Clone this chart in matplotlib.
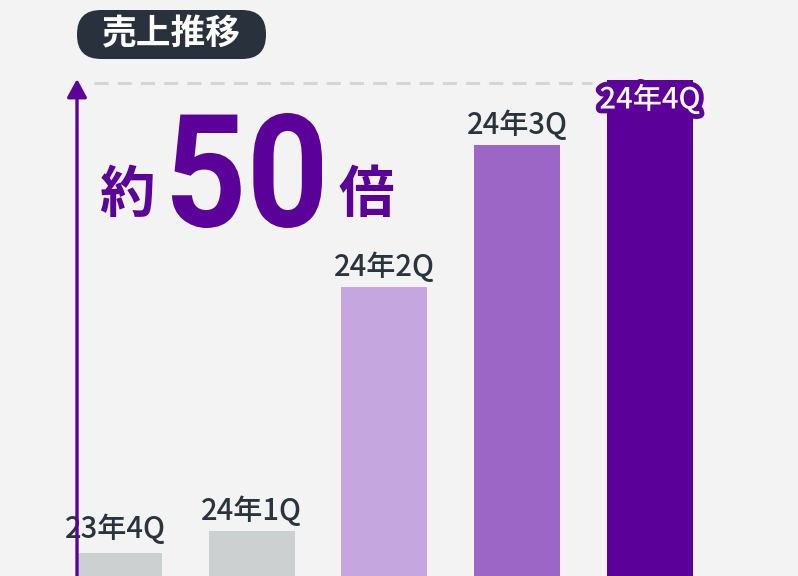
import matplotlib
matplotlib.use("Agg")
import matplotlib.pyplot as plt
import matplotlib.patheffects as pe
from matplotlib.patches import FancyBboxPatch, PathPatch
from matplotlib.textpath import TextPath
from matplotlib.font_manager import FontProperties
from matplotlib.transforms import Affine2D

plt.rcParams['font.family'] = ['Noto Sans CJK JP', 'DejaVu Sans']

# data (heights, image bottom = 0)
quarters = ['23年4Q', '24年1Q', '24年2Q', '24年3Q', '24年4Q']
sales = [23, 45, 289, 431, 496]
colors = ['#cdd0d1', '#cdd0d1', '#c6a6df', '#9c66c6', '#5b0099']
title = '売上推移'
multiple = '50'

BG = '#f3f3f3'
PURPLE = '#5b0099'
TEXT = '#2b333d'

fig = plt.figure(figsize=(7.98, 5.76), dpi=100, facecolor=BG)
ax = fig.add_axes([0, 0, 1, 1])
ax.set_facecolor(BG)
ax.axis('off')

xs = list(range(len(quarters)))
ax.bar(xs, sales, width=0.648, color=colors, zorder=2)
ax.set_xlim(-0.896, 5.115)
ax.set_ylim(0, 576)

# reference line at the top bar
ax.hlines(max(sales) - 3, -0.19, 3.56, colors='#d3d5d6', lw=2.2,
          linestyles=(0, (4.6, 3.0)), zorder=1)

for x, v, q in zip(xs, sales, quarters):
    if x == len(quarters) - 1:
        ax.text(x, v - 20, q, ha='center', va='center', fontsize=21,
                color='white', zorder=5, fontweight='medium',
                path_effects=[pe.withStroke(linewidth=7, foreground=PURPLE)])
    elif x == 0:
        ax.text(x - 0.03, v + 23, q, ha='center', va='center', fontsize=21,
                color=TEXT, zorder=5, fontweight='medium',
                bbox=dict(boxstyle='square,pad=0.12', fc=BG, ec='none'))
    else:
        ax.text(x, v + 20, q, ha='center', va='center', fontsize=21,
                color=TEXT, zorder=5, fontweight='medium')

# overlay in pixel coordinates for decorations
ov = fig.add_axes([0, 0, 1, 1], facecolor='none')
ov.set_xlim(0, 798)
ov.set_ylim(0, 576)
ov.axis('off')

# growth arrow
ov.annotate('', xy=(77, 576 - 79), xytext=(77, -5),
            arrowprops=dict(arrowstyle='-|>,head_width=0.3,head_length=0.55',
                            lw=2.4, color=PURPLE, mutation_scale=20,
                            shrinkA=0, shrinkB=0), zorder=3)

# title pill
pill = FancyBboxPatch((77, 576 - 59), 189, 49,
                      boxstyle='round,pad=0,rounding_size=24',
                      fc='#29323c', ec='none', zorder=6)
ov.add_patch(pill)
ov.text(171.5, 576 - 34, title, ha='center', va='center', fontsize=25,
        color='white', fontweight='bold', zorder=7)

# 約 50 倍
ov.text(127, 576 - 196, '約', ha='center', va='center', fontsize=40,
        color=PURPLE, fontweight='bold', zorder=7)
ov.text(366, 576 - 196, '倍', ha='center', va='center', fontsize=40,
        color=PURPLE, fontweight='bold', zorder=7)

tp = TextPath((0, 0), multiple, size=100,
              prop=FontProperties(family='Roboto', weight='bold'))
ext = tp.get_extents()
x0, x1, y0, y1 = 172, 322, 576 - 228, 576 - 113
sx = (x1 - x0) / ext.width
sy = (y1 - y0) / ext.height
tr = Affine2D().translate(-ext.x0, -ext.y0).scale(sx, sy).translate(x0, y0)
ov.add_patch(PathPatch(tr.transform_path(tp), fc=PURPLE, ec='none', zorder=7))

fig.savefig('out.png', dpi=100, facecolor=BG)
